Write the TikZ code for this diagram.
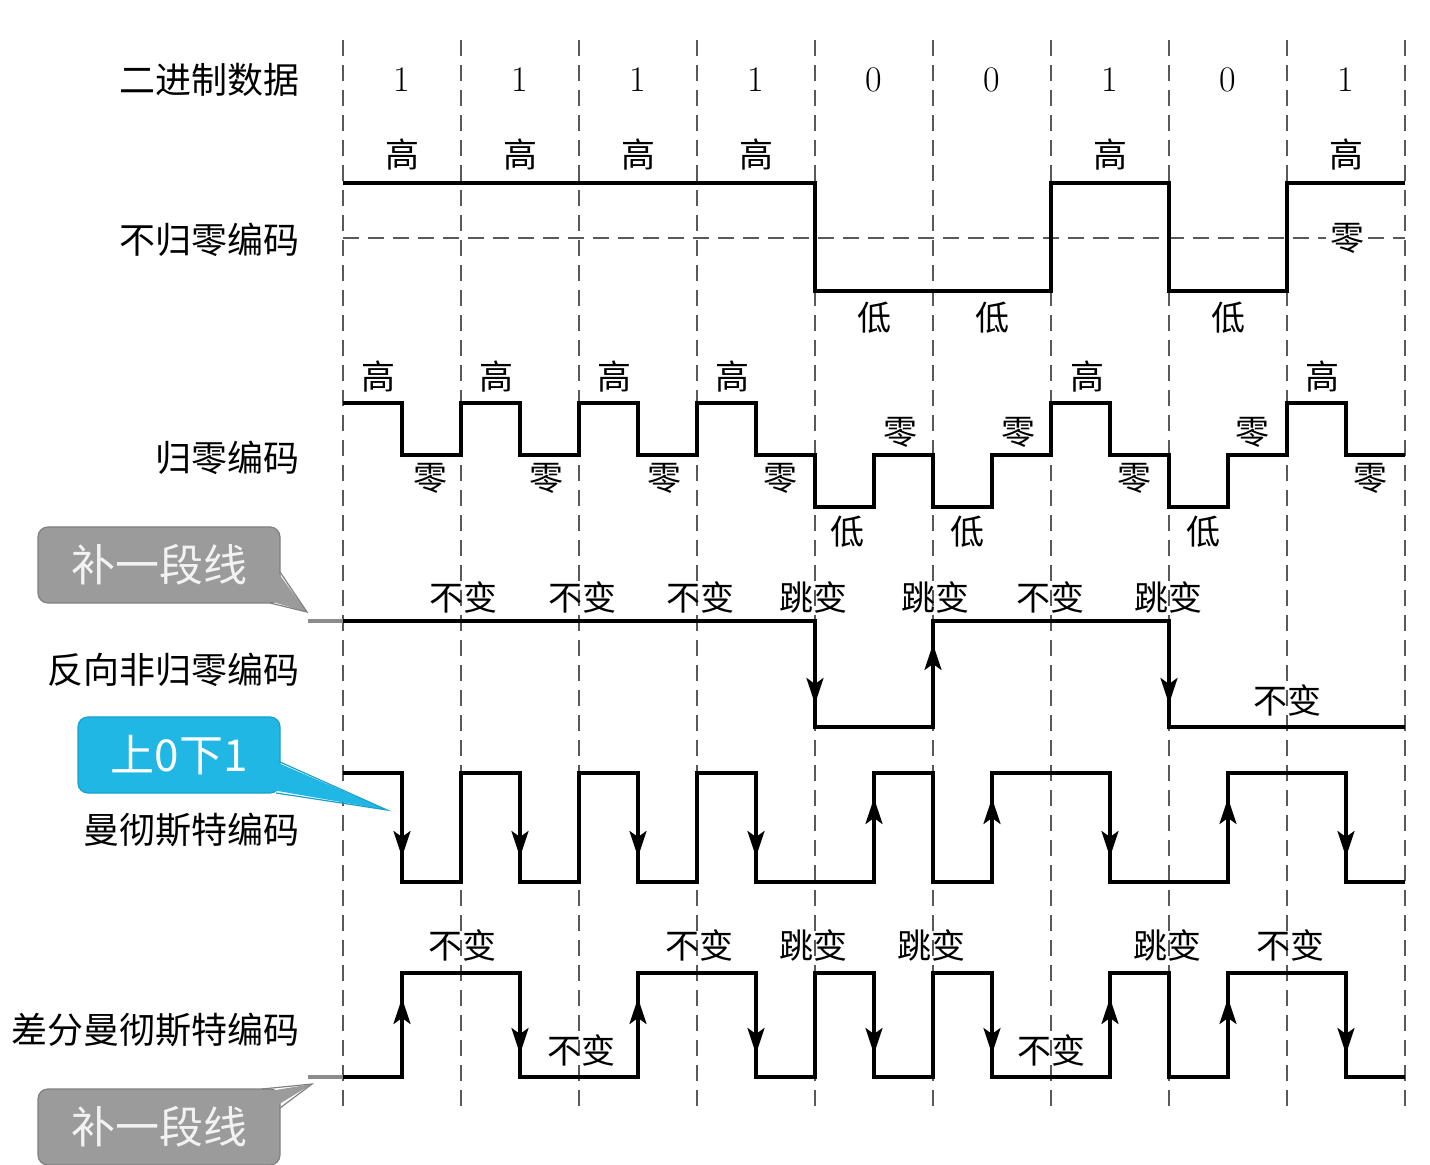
\documentclass[tikz,border=0pt]{standalone}
\usepackage{fontspec}
\newfontfamily\cjk{Noto Sans CJK SC}
\usetikzlibrary{arrows.meta}
\definecolor{calgray}{RGB}{155,155,155}
\definecolor{calgrayd}{RGB}{128,128,128}
\definecolor{calcyan}{RGB}{32,183,228}
\definecolor{calcyand}{RGB}{24,160,206}
\tikzset{wave/.style={line width=1.6pt,line join=miter},
  grid/.style={line width=.7pt,black!65,dash pattern=on 8pt off 4.5pt},
  tip/.style={-{Stealth[length=13pt,width=8.5pt,inset=3pt]},line width=1.6pt},
  lbl/.style={font=\cjk\fontsize{17}{17}\selectfont,inner sep=0pt},
  rowname/.style={font=\cjk\fontsize{18}{18}\selectfont,anchor=east,inner sep=0pt},
  stub/.style={line width=2.4pt,black!45},
  callout/.style={rounded corners=5pt,draw,line width=.6pt,minimum width=121pt,
    minimum height=38pt,text=white,font=\cjk\fontsize{22}{22}\selectfont}}

\begin{document}
\begin{tikzpicture}[x=.5pt,y=-.5pt]
  \path[use as bounding box] (0,0) rectangle (1430,1165);
  \clip (0,0) rectangle (1430,1165);
  \fill[white] (0,0) rectangle (1430,1165);
  % bit cells
  \foreach \i in {0,...,9}{\draw[grid] (343+118*\i,40)--(343+118*\i,1108);}
  \foreach \b [count=\i from 0] in {1,1,1,1,0,0,1,0,1}
    {\node[font=\fontsize{18}{18}\selectfont] (bit\i) at (402+118*\i,80) {\b};}
  % row names
  \node[rowname] (nbin) at (300,80) {二进制数据};
  \node[rowname] (nnrz) at (300,240) {不归零编码};
  \node[rowname] (nrz) at (300,458) {归零编码};
  \node[rowname] (nnrzi) at (300,670) {反向非归零编码};
  \node[rowname] (nman) at (300,830) {曼彻斯特编码};
  \node[rowname] (ndman) at (300,1030) {差分曼彻斯特编码};

  % non return to zero
  \draw[grid] (343,238)--(1405,238);
  \draw[wave] (343,183)--(815,183)--(815,291)--(1051,291)--(1051,183)--(1169,183)
    --(1169,291)--(1287,291)--(1287,183)--(1405,183);
  \foreach \x in {402,520,638,756,1110,1346}{\node[lbl] at (\x,155) {高};}
  \foreach \x in {874,992,1228}{\node[lbl] at (\x,318) {低};}
  \node[lbl,fill=white,inner sep=2pt] at (1347,238) {零};

  % return to zero
  \draw[wave] (343,403)--(402,403)--(402,455)--(461,455)--(461,403)--(520,403)--(520,455)
    --(579,455)--(579,403)--(638,403)--(638,455)--(697,455)--(697,403)--(756,403)
    --(756,455)--(815,455)--(815,507)--(874,507)--(874,455)--(933,455)--(933,507)
    --(992,507)--(992,455)--(1051,455)--(1051,403)--(1110,403)--(1110,455)--(1169,455)
    --(1169,507)--(1228,507)--(1228,455)--(1287,455)--(1287,403)--(1346,403)
    --(1346,455)--(1405,455);
  \foreach \x in {378,496,614,732,1087,1322}{\node[lbl] at (\x,377) {高};}
  \foreach \x in {430,546,664,780,1134,1370}{\node[lbl] at (\x,478) {零};}
  \foreach \x in {900,1018,1252}{\node[lbl] at (\x,432) {零};}
  \foreach \x in {847,967,1203}{\node[lbl] at (\x,532) {低};}

  % inverted non return to zero
  \draw[stub] (308,621)--(343,621);
  \draw[wave] (343,621)--(815,621)--(815,727)--(933,727)--(933,621)--(1169,621)
    --(1169,727)--(1405,727);
  \draw[tip] (815,621)--(815,704);
  \draw[tip] (933,727)--(933,644);
  \draw[tip] (1169,621)--(1169,704);
  \foreach \x in {463,582,700,1050}{\node[lbl] at (\x,597) {不变};}
  \foreach \x in {813,935,1168}{\node[lbl] at (\x,597) {跳变};}
  \node[lbl] at (1287,700) {不变};

  % manchester
  \draw[wave] (343,773)--(402,773)--(402,882)--(461,882)--(461,773)--(520,773)--(520,882)
    --(579,882)--(579,773)--(638,773)--(638,882)--(697,882)--(697,773)--(756,773)
    --(756,882)--(874,882)--(874,773)--(933,773)--(933,882)--(992,882)--(992,773)
    --(1110,773)--(1110,882)--(1228,882)--(1228,773)--(1346,773)--(1346,882)--(1405,882);
  \foreach \x in {402,520,638,756,1110,1346}{\draw[tip] (\x,773)--(\x,857);}
  \foreach \x in {874,992,1228}{\draw[tip] (\x,882)--(\x,798);}

  % differential manchester
  \draw[stub] (308,1077)--(343,1077);
  \draw[wave] (343,1077)--(402,1077)--(402,973)--(520,973)--(520,1077)--(638,1077)
    --(638,973)--(756,973)--(756,1077)--(815,1077)--(815,973)--(874,973)--(874,1077)
    --(933,1077)--(933,973)--(992,973)--(992,1077)--(1110,1077)--(1110,973)--(1169,973)
    --(1169,1077)--(1228,1077)--(1228,973)--(1346,973)--(1346,1077)--(1405,1077);
  \foreach \x in {402,638,1110,1228}{\draw[tip] (\x,1077)--(\x,998);}
  \foreach \x in {520,756,874,992,1346}{\draw[tip] (\x,973)--(\x,1054);}
  \foreach \x in {462,699,1290}{\node[lbl] at (\x,945) {不变};}
  \foreach \x in {813,931,1167}{\node[lbl] at (\x,945) {跳变};}
  \foreach \x in {581,1051}{\node[lbl] at (\x,1050) {不变};}

  % callouts
  \node[callout,fill=calgray,draw=calgrayd,text=white!95!black] (fill1) at (159,565) {补一段线};
  \fill[calgray] (276,570)--(307,612)--(266,600)--cycle;
  \draw[calgrayd,line width=.6pt] (280,572)--(307,612)--(270,603);
  \node[callout,fill=calcyan,draw=calcyand,minimum width=101pt] (updown) at (179,755) {上0下1};
  \fill[calcyan] (276,762)--(387,810)--(272,790)--cycle;
  \draw[calcyand,line width=.6pt] (280,762)--(387,810)--(276,793);
  \node[callout,fill=calgray,draw=calgrayd,text=white!95!black] (fill2) at (159,1127) {补一段线};
  \fill[calgray] (264,1092)--(312,1084)--(276,1106)--cycle;
  \draw[calgrayd,line width=.6pt] (262,1089)--(312,1084)--(280,1108);
\end{tikzpicture}
\end{document}
